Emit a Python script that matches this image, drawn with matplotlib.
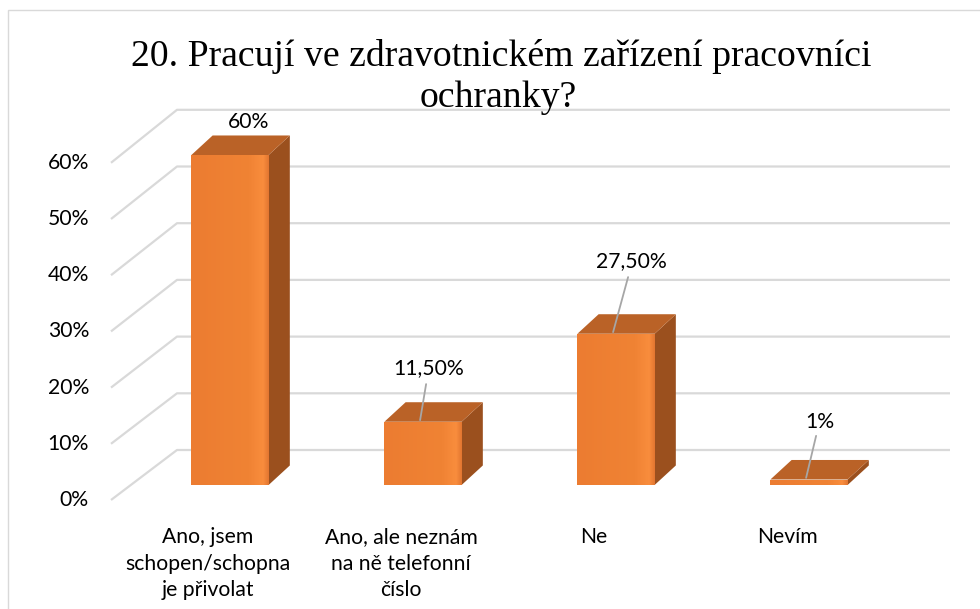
import matplotlib
matplotlib.use("Agg")
import matplotlib.pyplot as plt
from matplotlib.patches import Polygon, Rectangle
import numpy as np

# ---- data ----
categories = ["Ano, jsem\nschopen/schopna\nje přivolat",
              "Ano, ale neznám\nna ně telefonní\nčíslo",
              "Ne",
              "Nevím"]
values = [60.0, 11.5, 27.5, 1.0]
value_labels = ["60%", "11,50%", "27,50%", "1%"]
tick_values = [0, 10, 20, 30, 40, 50, 60]
tick_labels = ["0%", "10%", "20%", "30%", "40%", "50%", "60%"]
title_lines = ["20. Pracují ve zdravotnickém zařízení pracovníci", "ochranky?"]

# ---- style / layout ----
W, H = 980, 609
X0, S = 230.0, 193.0        # pixel x of first category, spacing
B0, K = 485.0, 5.5          # pixel y of bar base, pixels per percent
BAR_W = 0.40
DX, DY = 0.110, 3.55        # bar depth offset (data units)
FRONT_OFF, FRONT_SCALE = (B0 - 500) / K, 56.2 / (10 * K)
BACK_OFF, BACK_SCALE = (B0 - 450) / K, 56.7 / (10 * K)
GRID_X_FRONT, GRID_X_BACK, GRID_X_END = (111 - X0) / S, (177 - X0) / S, (950 - X0) / S

FRONT_C = "#EE7F33"
SIDE_C = "#9B501E"
TOP_C = "#BA6227"
GRID_C = "#D9D9D9"
LEADER_C = "#A6A6A6"
TEXT_C = "#000000"

label_offsets = [(19, 33), (6, 54), (15, 73), (11, 58)]      # pixels
leader_starts = [None, (6, 36), (15, 55), (10, 42)]          # pixels
title_pos = [(501.5, 65.7), (498, 107)]                      # pixels (x centre, baseline)

sans = ["Lato", "DejaVu Sans"]
plt.rcParams["font.family"] = sans
FS = 15.2

fig = plt.figure(figsize=(W / 100, H / 100), dpi=100)
ax = fig.add_axes([0, 0, 1, 1])
ax.axis("off")

# chart border
fig.patches.append(Rectangle((8 / W, -0.05), 1.2, 1 - 10 / H + 0.05,
                             transform=fig.transFigure, fill=False,
                             edgecolor=GRID_C, linewidth=1.0))

# back wall gridlines (with diagonal side connector)
for t in tick_values:
    yb = BACK_OFF + t * BACK_SCALE
    yf = FRONT_OFF + t * FRONT_SCALE
    ax.plot([GRID_X_FRONT, GRID_X_BACK, GRID_X_END], [yf, yb, yb],
            color=GRID_C, linewidth=1.6, solid_capstyle="butt", zorder=1)

# y tick labels (front plane)
for t, lab in zip(tick_values, tick_labels):
    ax.text((89 - X0) / S, FRONT_OFF + t * FRONT_SCALE, lab, ha="right",
            va="center", fontsize=FS, color=TEXT_C)

# bars
xs = np.arange(len(values))
bars = ax.bar(xs, values, width=BAR_W, color=FRONT_C, zorder=3, linewidth=0)

# front face gradient (light band near right edge)
grad_pos = [0.0, 0.75, 0.93, 1.0]
grad_col = [np.array(matplotlib.colors.to_rgb(c)) for c in
            ["#EC7C31", "#F08334", "#F98D3D", "#E37731"]]
g = np.linspace(0, 1, 100)
grad = np.stack([np.interp(g, grad_pos, [c[i] for c in grad_col]) for i in range(3)], axis=-1)
grad = grad[np.newaxis, :, :]

for x, v, b in zip(xs, values, bars):
    xl, xr = x - BAR_W / 2, x + BAR_W / 2
    im = ax.imshow(grad, extent=(xl, xr, 0, v), aspect="auto", zorder=3.1,
                   interpolation="bilinear")
    im.set_clip_path(b)
    side = Polygon([(xr, 0), (xr + DX, DY), (xr + DX, v + DY), (xr, v)],
                   closed=True, facecolor=SIDE_C, edgecolor="none", zorder=2.9)
    top = Polygon([(xl, v), (xr, v), (xr + DX, v + DY), (xl + DX, v + DY)],
                  closed=True, facecolor=TOP_C, edgecolor="none", zorder=3.2)
    ax.add_patch(side)
    ax.add_patch(top)

ax.set_xlim(-X0 / S, (W - X0) / S)
ax.set_ylim((B0 - H) / K, B0 / K)

# data labels + leaders
for x, v, lab, off, ls in zip(xs, values, value_labels, label_offsets, leader_starts):
    ax.annotate(lab, xy=(x, v), xytext=off, textcoords="offset pixels",
                ha="center", va="center", fontsize=FS, color=TEXT_C, zorder=5)
    if ls is not None:
        ax.annotate("", xy=(x - 0.015, v + 0.3), xytext=ls, textcoords="offset pixels",
                    arrowprops=dict(arrowstyle="-", color=LEADER_C, lw=1.3,
                                    shrinkA=0, shrinkB=0,
                                    patchA=None, patchB=None),
                    zorder=5)

# category labels
for x, cat in zip(xs, categories):
    ax.text(x - 22 / S, (B0 - 527) / K, cat, ha="center", va="top",
            fontsize=FS, color=TEXT_C, linespacing=1.42)

# title (two centred lines)
for line, (px, py) in zip(title_lines, title_pos):
    fig.text(px / W, 1 - py / H, line, ha="center", va="baseline",
             fontsize=27.2, family=["Liberation Serif", "DejaVu Serif"],
             color=TEXT_C)

fig.savefig("out.png", dpi=100)
